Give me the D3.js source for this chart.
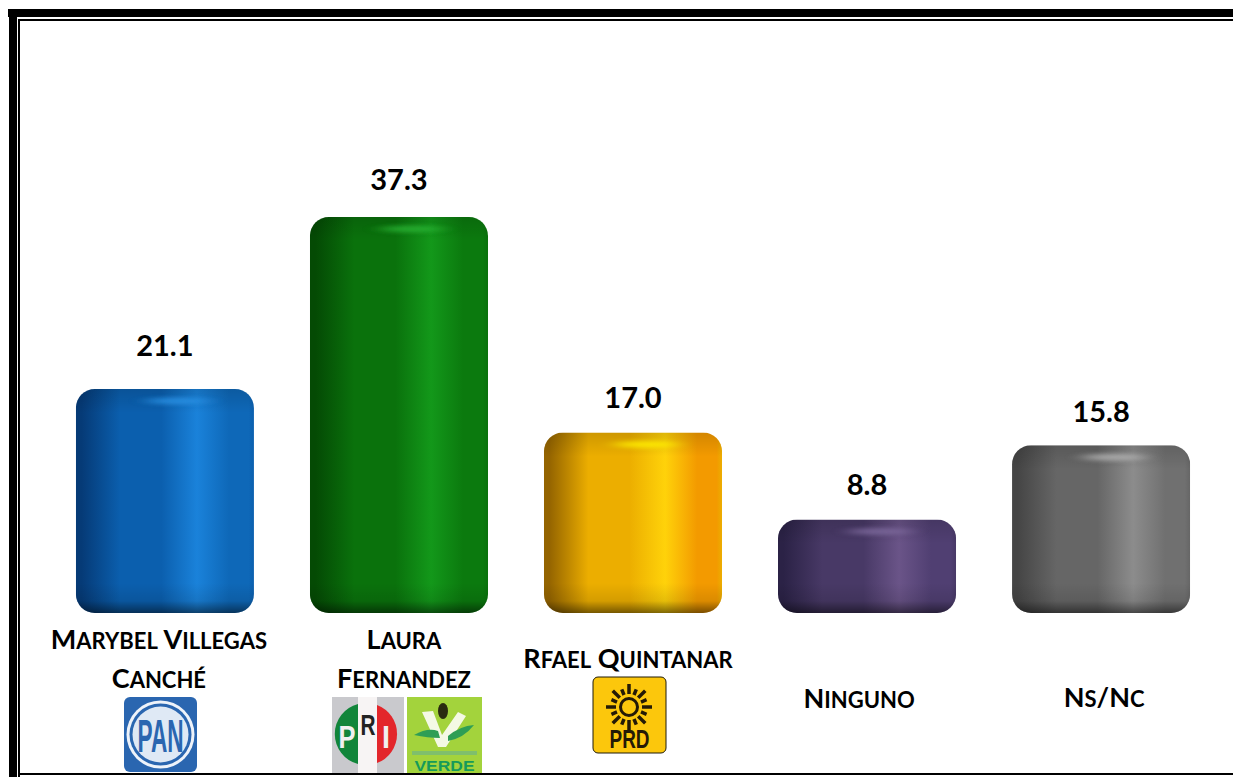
<!DOCTYPE html>
<html>
<head>
<meta charset="utf-8">
<script src="https://cdn.jsdelivr.net/npm/d3@7"></script>
<style>
html, body { margin: 0; padding: 0; background: #fff; }
svg { display: block; }
text { font-family: Lato, "Open Sans", sans-serif; font-weight: 700; fill: #000; }
</style>
</head>
<body>
<div id="chart"></div>
<script>
var categories = ["Marybel Villegas Canché", "Laura Fernandez", "Rfael Quintanar", "Ninguno", "Ns/Nc"];
var values = [21.1, 37.3, 17.0, 8.8, 15.8];
var labelLines = [["Marybel Villegas", "Canché"], ["Laura", "Fernandez"], ["Rfael Quintanar"], ["Ninguno"], ["Ns/Nc"]];
var edgeDark = ["#053a76", "#044a04", "#946400", "#2b2246", "#454545"];
var shadeColors = ["#0b5fae", "#0a720c", "#ecae00", "#483966", "#666666"];
var lightColors = ["#1a82da", "#13981a", "#ffd20a", "#6a5488", "#8c8c8c"];
var rightColors = ["#0e68b8", "#0b7a0e", "#f39a00", "#503f72", "#707070"];
var glowColors = ["#2c93e6", "#2ab534", "#fff000", "#7f6a9e", "#b4b4b4"];

var width = 1233;
var height = 777;
var baseline = 613;

var svg = d3.select("#chart").append("svg")
    .attr("width", width)
    .attr("height", height);

var x = d3.scaleBand()
    .domain(categories)
    .range([48, 1218])
    .paddingInner(0.239)
    .paddingOuter(0.119);

var y = d3.scaleLinear()
    .domain([0, 37.3])
    .range([baseline, 217]);

var defs = svg.append("defs");
defs.append("filter").attr("id", "soft")
    .attr("x", "-50%").attr("y", "-200%").attr("width", "200%").attr("height", "500%")
    .append("feGaussianBlur").attr("stdDeviation", "9 2");

// top and bottom shading is the same for all bars
var topShade = defs.append("linearGradient").attr("id", "topShade").attr("x2", 0).attr("y2", 1);
topShade.append("stop").attr("offset", 0).attr("stop-color", "#000").attr("stop-opacity", 0.13);
topShade.append("stop").attr("offset", 1).attr("stop-color", "#000").attr("stop-opacity", 0);
var bottomShade = defs.append("linearGradient").attr("id", "bottomShade").attr("x2", 0).attr("y2", 1);
bottomShade.append("stop").attr("offset", 0).attr("stop-color", "#000").attr("stop-opacity", 0);
bottomShade.append("stop").attr("offset", 0.6).attr("stop-color", "#000").attr("stop-opacity", 0.1);
bottomShade.append("stop").attr("offset", 1).attr("stop-color", "#000").attr("stop-opacity", 0.5);

categories.forEach(function(c, i) {
  var g = defs.append("linearGradient").attr("id", "bar" + i);
  var stops = [[0, edgeDark[i]], [0.03, edgeDark[i]], [0.25, shadeColors[i]], [0.48, shadeColors[i]], [0.68, lightColors[i]], [0.86, rightColors[i]], [0.97, rightColors[i]], [1, shadeColors[i]]];
  stops.forEach(function(s) {
    g.append("stop").attr("offset", s[0]).attr("stop-color", s[1]);
  });
  defs.append("clipPath").attr("id", "clip" + i)
    .append("rect")
    .attr("x", x(c))
    .attr("y", y(values[i]))
    .attr("width", x.bandwidth())
    .attr("height", baseline - y(values[i]))
    .attr("rx", 19);
});

var bars = svg.selectAll(".bar")
    .data(categories)
    .enter().append("g")
    .attr("class", "bar")
    .attr("clip-path", function(d, i) { return "url(#clip" + i + ")"; });

bars.append("rect")
    .attr("x", function(d) { return x(d); })
    .attr("y", function(d, i) { return y(values[i]); })
    .attr("width", x.bandwidth())
    .attr("height", function(d, i) { return baseline - y(values[i]); })
    .attr("fill", function(d, i) { return "url(#bar" + i + ")"; });

bars.append("rect")
    .attr("x", function(d) { return x(d); })
    .attr("y", function(d, i) { return y(values[i]); })
    .attr("width", x.bandwidth())
    .attr("height", 24)
    .attr("fill", "url(#topShade)");

bars.append("rect")
    .attr("x", function(d) { return x(d); })
    .attr("y", baseline - 30)
    .attr("width", x.bandwidth())
    .attr("height", 30)
    .attr("fill", "url(#bottomShade)");

bars.append("ellipse")
    .attr("cx", function(d) { return x(d) + x.bandwidth() * 0.57; })
    .attr("cy", function(d, i) { return y(values[i]) + 12; })
    .attr("rx", 32)
    .attr("ry", 3.5)
    .attr("opacity", 0.8)
    .attr("fill", function(d, i) { return glowColors[i]; })
    .attr("filter", "url(#soft)");

// value labels, the gap above the bar differs a bit per bar
var valueGap = [33, 27, 25, 25, 23];
svg.selectAll(".value")
    .data(values)
    .enter().append("text")
    .attr("class", "value")
    .attr("x", function(d, i) { return x(categories[i]) + x.bandwidth() / 2; })
    .attr("y", function(d, i) { return y(d) - valueGap[i]; })
    .attr("text-anchor", "middle")
    .style("font-size", "29px")
    .text(function(d) { return d.toFixed(1); });

// category labels, small caps like the original (lower case runs set smaller)
var labelY = [[649, 688], [649, 688], [668], [708], [707]];
var labelShift = [-6, 5, -5, -8, 3];
labelLines.forEach(function(lines, i) {
  lines.forEach(function(line, j) {
    var t = svg.append("text")
      .attr("x", x(categories[i]) + x.bandwidth() / 2 + labelShift[i])
      .attr("y", labelY[i][j])
      .attr("text-anchor", "middle")
      .style("font-size", "27px");
    line.match(/[a-zé]+|[^a-zé]+/g).forEach(function(run) {
      var small = /[a-zé]/.test(run);
      t.append("tspan")
        .style("font-size", small ? "22px" : "27px")
        .style("text-transform", "uppercase")
        .text(run);
    });
  });
});

function logoBox(px, py, w, h, fill, r) {
  return svg.append("rect").attr("x", px).attr("y", py).attr("width", w).attr("height", h).attr("rx", r).attr("fill", fill);
}

function logoText(px, py, size, len, fill, t) {
  svg.append("text").attr("x", px).attr("y", py).attr("text-anchor", "middle")
    .attr("textLength", len).attr("lengthAdjust", "spacingAndGlyphs")
    .style("font-size", size + "px").style("fill", fill).style("font-family", "'Liberation Sans', sans-serif").text(t);
}

// PAN
logoBox(124, 697, 73, 75, "#2a66b0", 6);
svg.append("circle").attr("cx", 160.5).attr("cy", 734.5).attr("r", 34).attr("fill", "#eef3fa");
svg.append("circle").attr("cx", 160.5).attr("cy", 734.5).attr("r", 31).attr("fill", "#2a66b0");
svg.append("circle").attr("cx", 160.5).attr("cy", 734.5).attr("r", 28).attr("fill", "#dfe9f5");
logoText(160.5, 752, 46, 46, "#2a66b0", "PAN");

// PRI
logoBox(332, 697, 72, 76, "#c9c9cd", 0);
svg.append("path").attr("d", "M358 704 A31 31 0 0 0 358 764 Z").attr("fill", "#11853a");
svg.append("path").attr("d", "M377 705 A31 31 0 0 1 377 763 Z").attr("fill", "#e3262b");
svg.append("rect").attr("x", 358).attr("y", 697).attr("width", 19).attr("height", 76).attr("fill", "#f7f4f4");
logoText(347, 748, 32, 17, "#f0f0f0", "P");
logoText(368, 735, 30, 15, "#222", "R");
logoText(386, 748, 32, 8, "#f0f0f0", "I");

// Verde
logoBox(407, 697, 75, 76, "#a3d33c", 0);
svg.append("path").attr("d", "M422 712 L433 711 L442 735 L458 712 L466 716 L446 747 L438 747 Z").attr("fill", "#f4f9e4");
svg.append("path").attr("d", "M414 735 Q428 727 438 731 L440 738 Q428 738 414 735 Z").attr("fill", "#2f9e55");
svg.append("path").attr("d", "M448 736 Q460 726 474 725 Q464 738 448 741 Z").attr("fill", "#2f9e55");
svg.append("ellipse").attr("cx", 443).attr("cy", 711).attr("rx", 5).attr("ry", 8).attr("fill", "#2a2a10");
svg.append("rect").attr("x", 412).attr("y", 751).attr("width", 65).attr("height", 4).attr("fill", "#7fbf6c");
logoText(444.5, 771, 15, 60, "#159a5a", "VERDE");

// PRD
logoBox(593, 677, 73, 76, "#fcc70c", 5).attr("stroke", "#1e1a08").attr("stroke-width", 1);
var sunG = svg.append("g").attr("transform", "translate(629,707)");
d3.range(16).forEach(function(i) {
  sunG.append("line")
    .attr("x1", 0).attr("y1", -13)
    .attr("x2", 0).attr("y2", i % 2 ? -19 : -23)
    .attr("stroke", "#241a06").attr("stroke-width", 3.5)
    .attr("transform", "rotate(" + (i * 22.5) + ")");
});
sunG.append("circle").attr("r", 8.5).attr("fill", "none").attr("stroke", "#241a06").attr("stroke-width", 3);
logoText(629.5, 748, 25, 40, "#241a06", "PRD");

// frame
svg.append("rect").attr("x", 8).attr("y", 9).attr("width", width - 8).attr("height", 8).attr("fill", "#000");
svg.append("rect").attr("x", 9).attr("y", 9).attr("width", 8).attr("height", height - 9).attr("fill", "#000");
svg.append("rect").attr("x", 18).attr("y", 19).attr("width", width - 18).attr("height", 2).attr("fill", "#000");
svg.append("rect").attr("x", 18).attr("y", 19).attr("width", 2).attr("height", height - 19).attr("fill", "#000");
svg.append("rect").attr("x", 18).attr("y", 773).attr("width", width - 18).attr("height", 2).attr("fill", "#000");
svg.append("rect").attr("x", 20).attr("y", 775).attr("width", width - 20).attr("height", 2).attr("fill", "#fff");
</script>
</body>
</html>
